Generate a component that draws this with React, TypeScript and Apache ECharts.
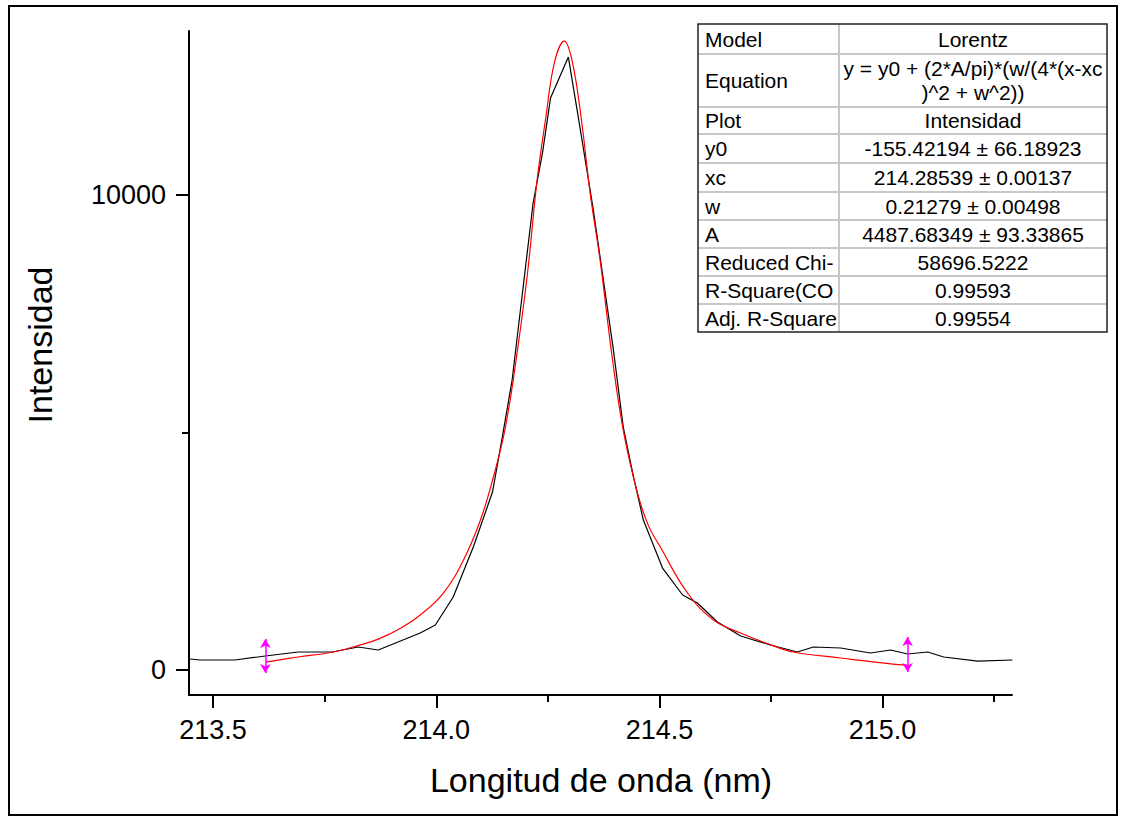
import React, { useEffect, useRef } from "react";
import * as echarts from "echarts";

// ---- data ----
const waveData = [213.448, 213.471, 213.549, 213.617, 213.691, 213.767, 213.825, 213.870, 213.964, 213.998, 214.038, 214.083, 214.126, 214.148, 214.170, 214.217, 214.238, 214.256, 214.296, 214.323, 214.352, 214.397, 214.419, 214.442, 214.464, 214.507, 214.552, 214.585, 214.630, 214.682, 214.749, 214.809, 214.845, 214.906, 214.973, 215.018, 215.056, 215.101, 215.137, 215.213, 215.291];
const intensData = [232, 211, 211, 295, 379, 379, 484, 421, 779, 947, 1537, 2589, 3747, 4905, 6105, 9830, 10883, 12041, 12904, 11367, 9683, 6736, 5115, 4063, 3158, 2147, 1579, 1410, 1010, 716, 526, 379, 484, 463, 358, 421, 337, 379, 274, 189, 211];

const waveFit = [213.617, 213.69, 213.77, 213.83, 213.87, 213.92, 213.964, 214.016, 214.061, 214.099, 214.128, 214.155, 214.182, 214.205, 214.226, 214.245, 214.265, 214.287, 214.305, 214.325, 214.345, 214.368, 214.395, 214.42, 214.451, 214.475, 214.502, 214.563, 214.621, 214.682, 214.75, 214.80, 214.906, 215.018, 215.056];
const intensFit = [168, 274, 379, 530, 650, 880, 1158, 1621, 2316, 3158, 4063, 5115, 6736, 8400, 10315, 11600, 12800, 13240, 12800, 11600, 10030, 8567, 6526, 5000, 3726, 3050, 2589, 1621, 1053, 779, 530, 379, 253, 130, 105];

// fit-range markers (x, top, bottom)
const markerX = [213.617, 215.056];
const markerTop = [653, 695];
const markerBottom = [-63, -42];

const xTickValues = [213.5, 214.0, 214.5, 215.0];
const xMinorValues = [213.75, 214.25, 214.75, 215.25];
const yTickValues = [0, 10000];
const yMinorValues = [5000];

const xMin = 213.446;
const xMax = 215.29;
const yMin = -526;
const yMax = 13453;

const tableLabels = ["Model", "Equation", "Plot", "y0", "xc", "w", "A", "Reduced Chi-", "R-Square(CO", "Adj. R-Square"];
const tableValues = [
  "Lorentz",
  "y = y0 + (2*A/pi)*(w/(4*(x-xc\n)^2 + w^2))",
  "Intensidad",
  "-155.42194 ± 66.18923",
  "214.28539 ± 0.00137",
  "0.21279 ± 0.00498",
  "4487.68349 ± 93.33865",
  "58696.5222",
  "0.99593",
  "0.99554",
];

const xTitle = "Longitud de onda (nm)";
const yTitle = "Intensidad";

const FONT = '"Liberation Sans", Arial, sans-serif';

export default function App() {
  const ref = useRef<HTMLDivElement>(null);

  useEffect(() => {
    if (!ref.current) return;
    const chart = echarts.init(ref.current, undefined, { renderer: "svg" });

    // table layout
    const tLeft = 698;
    const tMid = 839;
    const tRight = 1107;
    const rowEdges = [24, 54, 107, 134, 163, 192, 220, 248, 276, 304, 332];
    const tableEls: any[] = [];
    tableEls.push({
      type: "rect",
      shape: { x: tLeft, y: rowEdges[0], width: tRight - tLeft, height: rowEdges[rowEdges.length - 1] - rowEdges[0] },
      style: { fill: "#fff", stroke: "none" },
      z: 10,
    });
    for (let i = 1; i < rowEdges.length - 1; i++) {
      tableEls.push({
        type: "line",
        shape: { x1: tLeft, y1: rowEdges[i], x2: tRight, y2: rowEdges[i] },
        style: { stroke: "#c8c8c8", lineWidth: 2 },
        z: 11,
      });
    }
    tableEls.push({
      type: "line",
      shape: { x1: tMid, y1: rowEdges[0], x2: tMid, y2: rowEdges[rowEdges.length - 1] },
      style: { stroke: "#c8c8c8", lineWidth: 2 },
      z: 11,
    });
    tableEls.push({
      type: "rect",
      shape: { x: tLeft, y: rowEdges[0], width: tRight - tLeft, height: rowEdges[rowEdges.length - 1] - rowEdges[0] },
      style: { fill: "none", stroke: "#222", lineWidth: 1.5 },
      z: 12,
    });
    tableLabels.forEach((lab, i) => {
      const cy = (rowEdges[i] + rowEdges[i + 1]) / 2;
      tableEls.push({
        type: "text",
        x: tLeft + 7,
        y: cy,
        style: { text: lab, fontSize: 21, fontFamily: FONT, fill: "#000", align: "left", verticalAlign: "middle" },
        z: 13,
      });
      tableEls.push({
        type: "text",
        x: (tMid + tRight) / 2,
        y: cy,
        style: {
          text: tableValues[i],
          fontSize: 21,
          fontFamily: FONT,
          fill: "#000",
          align: "center",
          verticalAlign: "middle",
          lineHeight: 24,
        },
        z: 13,
      });
    });

    const markData = markerX.map((x, i) => [
      { coord: [x, markerTop[i]] },
      { coord: [x, markerBottom[i]] },
    ]);

    chart.setOption({
      animation: false,
      backgroundColor: "#fff",
      grid: { left: 189, right: 112, top: 31, bottom: 121, containLabel: false },
      xAxis: [
        {
          type: "value",
          min: xMin,
          max: xMax,
          axisLine: { show: true, onZero: false, lineStyle: { color: "#000", width: 2 } },
          axisTick: { show: true, customValues: xTickValues, length: 13, inside: false, lineStyle: { color: "#000", width: 2 } },
          axisLabel: {
            show: true,
            customValues: xTickValues,
            formatter: (v: number) => v.toFixed(1),
            fontSize: 27,
            fontFamily: FONT,
            color: "#000",
            margin: 21,
          },
          splitLine: { show: false },
        },
        {
          type: "value",
          position: "bottom",
          min: xMin,
          max: xMax,
          axisLine: { show: false, onZero: false },
          axisTick: { show: true, customValues: xMinorValues, length: 7, inside: false, lineStyle: { color: "#000", width: 2 } },
          axisLabel: { show: false },
          splitLine: { show: false },
        },
      ],
      yAxis: [
        {
          type: "value",
          min: yMin,
          max: yMax,
          axisLine: { show: true, onZero: false, lineStyle: { color: "#000", width: 2 } },
          axisTick: { show: true, customValues: yTickValues, length: 13, inside: false, lineStyle: { color: "#000", width: 2 } },
          axisLabel: {
            show: true,
            customValues: yTickValues,
            formatter: (v: number) => String(v),
            fontSize: 27,
            fontFamily: FONT,
            color: "#000",
            margin: 23,
          },
          splitLine: { show: false },
        },
        {
          type: "value",
          position: "left",
          min: yMin,
          max: yMax,
          axisLine: { show: false, onZero: false },
          axisTick: { show: true, customValues: yMinorValues, length: 7, inside: false, lineStyle: { color: "#000", width: 2 } },
          axisLabel: { show: false },
          splitLine: { show: false },
        },
      ],
      series: [
        {
          name: "Intensidad",
          type: "line",
          xAxisIndex: 0,
          yAxisIndex: 0,
          data: waveData.map((x, i) => [x, intensData[i]]),
          showSymbol: false,
          symbol: "none",
          lineStyle: { color: "#000", width: 1.2 },
          z: 3,
        },
        {
          name: "Fit",
          type: "line",
          xAxisIndex: 0,
          yAxisIndex: 0,
          data: waveFit.map((x, i) => [x, intensFit[i]]),
          smooth: 0.4,
          showSymbol: false,
          symbol: "none",
          lineStyle: { color: "#ff0000", width: 1.2 },
          z: 4,
          markLine: {
            silent: true,
            symbol: ["arrow", "arrow"],
            symbolSize: [8, 9],
            label: { show: false },
            lineStyle: { color: "#ff00ff", width: 1.5, type: "solid" },
            data: markData,
          },
        },
      ],
      graphic: [
        {
          type: "rect",
          shape: { x: 9, y: 6, width: 1108, height: 809 },
          style: { fill: "none", stroke: "#000", lineWidth: 2 },
          z: 0,
        },
        {
          type: "text",
          x: 601,
          y: 780,
          style: { text: xTitle, fontSize: 34, fontFamily: FONT, fill: "#000", align: "center", verticalAlign: "middle" },
        },
        {
          type: "text",
          x: 40,
          y: 345,
          rotation: Math.PI / 2,
          style: { text: yTitle, fontSize: 34, fontFamily: FONT, fill: "#000", align: "center", verticalAlign: "middle" },
        },
        ...tableEls,
      ],
    });

    return () => chart.dispose();
  }, []);

  return (
    <div
      ref={ref}
      style={{ position: "absolute", left: 0, top: 0, width: 1124, height: 816, background: "#fff" }}
    />
  );
}
